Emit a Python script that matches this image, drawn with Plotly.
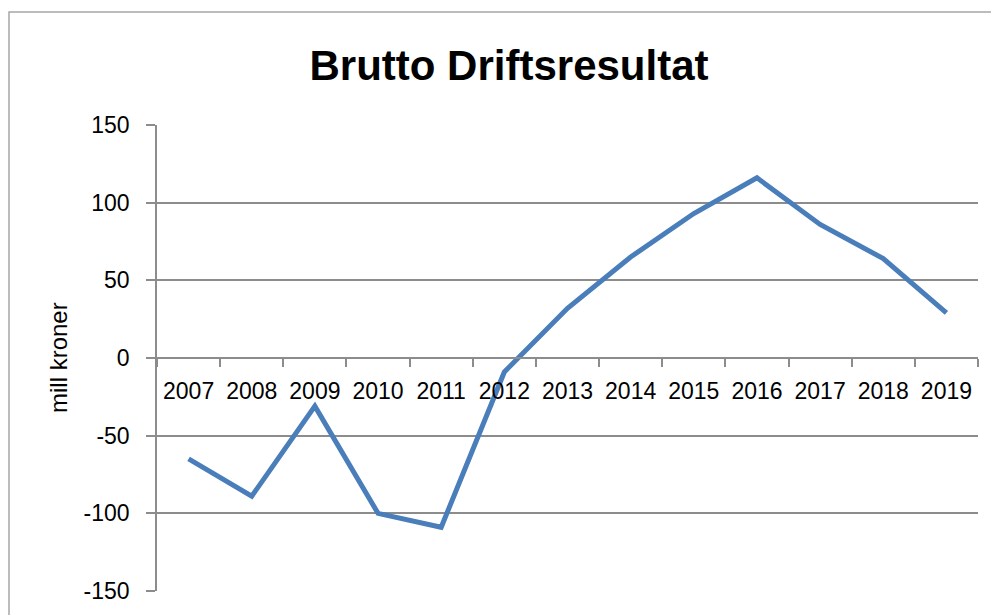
import plotly.graph_objects as go

# Values (mill kroner)
years = ["2007", "2008", "2009", "2010", "2011", "2012", "2013",
         "2014", "2015", "2016", "2017", "2018", "2019"]
brutto = [-65, -89, -31, -100, -109, -9, 32, 65, 93, 116, 86, 64, 29]

y_ticks = [-150, -100, -50, 0, 50, 100, 150]
y_tick_text = ["-150", "-100", "-50", "0", "50", "100", "150"]

grid = "#8c8c8c"
font = "Liberation Sans"

# the page body adds an 8px margin, so the figure is sized to fit the window
W, H = 991, 607
L, R, T, B = 149, 21, 117, 24
pw, ph = W - L - R, H - T - B

fig = go.Figure()

fig.add_trace(go.Scatter(
    x=years, y=brutto, mode="lines",
    line=dict(color="#4a7ebb", width=5),
    hoverinfo="x+y", showlegend=False
))

# outer chart frame like the Excel chart area
fig.add_shape(
    type="rect", xref="paper", yref="paper",
    x0=(1 - L) / pw, y0=-(B + 20) / ph, x1=(pw + R + 20) / pw, y1=(ph + T - 4) / ph,
    line=dict(color="#a6a6a6", width=1.5), fillcolor="rgba(0,0,0,0)",
    layer="below"
)

# y axis title
fig.add_annotation(
    text="mill kroner", textangle=-90, showarrow=False,
    xref="paper", yref="paper", x=(50 - L) / pw, y=0.5,
    xanchor="center", yanchor="middle",
    font=dict(family=font, size=24, color="black")
)

fig.update_layout(
    width=W, height=H,
    margin=dict(l=L, r=R, t=T, b=B),
    paper_bgcolor="white", plot_bgcolor="white",
    font=dict(family=font, size=23, color="black"),
    title=dict(
        text="<b>Brutto Driftsresultat</b>",
        font=dict(family=font, size=42, color="black"),
        x=501 / W, xanchor="center", xref="container",
        y=1 - 57 / H, yanchor="middle", yref="container"
    ),
)

fig.update_xaxes(
    type="category", range=[-0.5, 12.5],
    anchor="free", position=0.5,
    showgrid=False, showline=True, linecolor=grid, linewidth=1.5,
    ticks="outside", tickson="boundaries", ticklen=8,
    tickcolor=grid, tickwidth=1.5,
    ticklabelstandoff=13,
    tickfont=dict(family=font, size=23, color="black"),
    zeroline=False, fixedrange=True
)

fig.update_yaxes(
    range=[-150, 150], tickvals=y_ticks, ticktext=y_tick_text,
    showgrid=True, gridcolor=grid, gridwidth=1.5,
    showline=True, linecolor=grid, linewidth=1.5,
    ticks="outside", ticklen=9, tickcolor=grid, tickwidth=1.5,
    ticklabelstandoff=12,
    tickfont=dict(family=font, size=23, color="black"),
    zeroline=False, fixedrange=True
)

fig.write_html("out.html")
